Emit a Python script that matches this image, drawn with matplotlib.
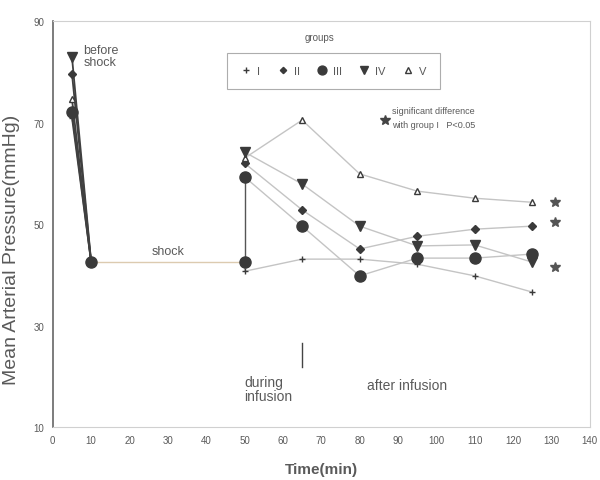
import matplotlib
matplotlib.use('Agg')
import matplotlib.pyplot as plt
from matplotlib.lines import Line2D

plt.rcParams['font.family'] = ['Liberation Sans', 'DejaVu Sans']

# time points (min)
t_pre = [5, 10]
t_post = [50, 65, 80, 95, 110, 125]
shock_t = [10, 50]
shock_v = [42.5, 42.5]
infusion_t = [50, 50]
infusion_v = [42.5, 59.3]

groups = ['I', 'II', 'III', 'IV', 'V']
pre_vals = [71.0, 79.6, 72.1, 82.9, 74.6]
post_vals = [
    [40.7, 43.1, 43.1, 42.1, 39.8, 36.6],   # I
    [62.0, 52.8, 45.1, 47.6, 49.0, 49.6],   # II
    [59.3, 49.6, 39.8, 43.3, 43.3, 44.1],   # III
    [64.2, 57.9, 49.6, 45.7, 45.9, 42.5],   # IV
    [63.0, 70.5, 59.9, 56.5, 55.1, 54.3],   # V
]
# significance stars at the end of the curves
star_t = [131, 131, 131]
star_v = [54.3, 50.4, 41.5]

markers = ['+', 'D', 'o', 'v', '^']
msizes = [5, 4, 8, 7, 5]
mk_color = '#3a3a3a'
line_color = '#c4c4c4'
text_color = '#5a5a5a'

fig = plt.figure(figsize=(6, 4.81), dpi=100)
ax = fig.add_axes([0.088, 0.110, 0.895, 0.844])

# pre-shock drop
for i, g in enumerate(groups):
    ax.plot(t_pre, [pre_vals[i], shock_v[0]], color='#404040', lw=1.3, zorder=3)
    ax.plot(t_pre[0], pre_vals[i], marker=markers[i], ms=msizes[i], color=mk_color,
            mfc=('white' if g == 'V' else mk_color), mew=1, ls='none', zorder=4)

# shock plateau
ax.plot(shock_t, shock_v, color='#dccbb0', lw=1, zorder=2)
ax.plot(shock_t, shock_v, 'o', ms=8, color=mk_color, zorder=4)
ax.plot(infusion_t, infusion_v, color='#555555', lw=1, zorder=2)

# infusion and recovery
order = [0, 1, 2, 4, 3]
for i in order:
    g = groups[i]
    ax.plot([shock_t[1]] + t_post if g == 'I' else t_post,
            [shock_v[1]] + post_vals[i] if g == 'I' else post_vals[i],
            color=line_color, lw=1, zorder=2)
    ax.plot(t_post, post_vals[i], marker=markers[i], ms=msizes[i], color=mk_color,
            mfc=('white' if g == 'V' else mk_color), mew=1, ls='none', zorder=4)

ax.plot(star_t, star_v, '*', ms=7, color='#555555', ls='none', zorder=4)

ax.set_xlim(0, 140)
ax.set_ylim(10, 90)
ax.set_xticks(range(0, 141, 10))
ax.set_yticks([10, 30, 50, 70, 90])
ax.tick_params(length=0, labelsize=7, colors=text_color, pad=6)
for side in ['top', 'right', 'bottom']:
    ax.spines[side].set_color('#d0d0d0')
ax.spines['left'].set_color('#666666')
ax.spines['left'].set_linewidth(1.2)

ax.set_xlabel('Time(min)', fontsize=11, fontweight='bold', color=text_color, labelpad=12)
ax.set_ylabel('Mean Arterial Pressure(mmHg)', fontsize=14, color=text_color)
ax.yaxis.set_label_coords(-0.062, 0.44)

# annotations
ax.text(8, 85.5, 'before\nshock', fontsize=9, color=text_color, va='top', linespacing=1.0)
ax.text(30, 43.6, 'shock', fontsize=9, color=text_color, ha='center', va='bottom')
ax.plot([65, 65], [21.8, 26.5], color='#444444', lw=1)
ax.text(50, 20.2, 'during\ninfusion', fontsize=10, color=text_color, va='top', linespacing=1.0)
ax.text(82, 18.2, 'after infusion', fontsize=10, color=text_color, va='center')
ax.plot(86.5, 70.5, '*', ms=7, color='#444444')
ax.text(88.5, 71.0, 'significant difference\nwith group I   P<0.05', fontsize=6.5,
        color=text_color, va='center', linespacing=1.6)

handles = [Line2D([], [], marker=markers[i], ms=msizes[i] * 0.8, color=mk_color, ls='none',
                  mfc=('white' if groups[i] == 'V' else mk_color)) for i in range(5)]
leg = ax.legend(handles, groups, ncol=5, loc='upper center', bbox_to_anchor=(0.523, 0.936),
                fontsize=8, frameon=True, handletextpad=0.5, columnspacing=1.5,
                borderpad=1.2, handlelength=1.0)
leg.get_frame().set_edgecolor('#999999')
leg.get_frame().set_linewidth(0.8)
leg.get_frame().set_boxstyle('square', pad=0)
for txt in leg.get_texts():
    txt.set_color(text_color)
ax.text(0.497, 0.962, 'groups', transform=ax.transAxes, fontsize=7, color=text_color,
        ha='center', va='center')

fig.savefig('out.png', dpi=100)
